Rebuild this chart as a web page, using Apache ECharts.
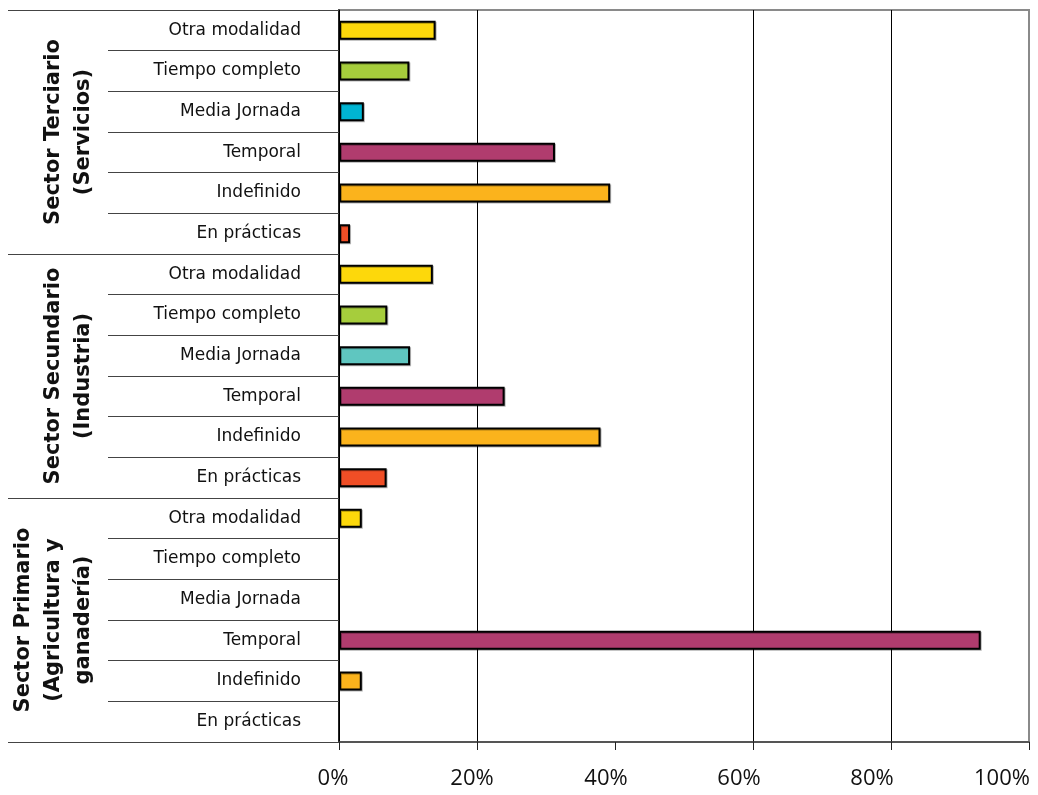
<!DOCTYPE html>
<html>
<head>
<meta charset="utf-8">
<script src="https://cdn.jsdelivr.net/npm/echarts@6/dist/echarts.min.js"></script>
<style>
    html, body { margin: 0; padding: 0; background: #fff; }
    #main { width: 1038px; height: 795px; }
</style>
</head>
<body>
<div id="main"></div>
<script type="text/javascript">

    // modalidades de contrato (de arriba a abajo dentro de cada sector)
    var modalidades = ['Otra modalidad', 'Tiempo completo', 'Media Jornada', 'Temporal', 'Indefinido', 'En prácticas'];
    var sectores = ['Sector Terciario\n(Servicios)', 'Sector Secundario\n(Industria)', 'Sector Primario\n(Agricultura y\nganadería)'];

    // porcentajes
    var terciario  = [14.0, 10.2, 3.6, 31.3, 39.3, 1.6];
    var secundario = [13.6, 7.0, 10.3, 24.0, 37.9, 6.9];
    var primario   = [3.3, 0, 0, 93.0, 3.3, 0];

    var ticks = [0, 20, 40, 60, 80, 100];

    var colTerciario  = ['#fdd80b', '#a6cd3c', '#00b5d3', '#b03c6e', '#fbb31c', '#f04e26'];
    var colSecundario = ['#fdd80b', '#a6cd3c', '#5fc6c0', '#b03c6e', '#fbb31c', '#f04e26'];
    var colPrimario   = ['#fdd80b', '#a6cd3c', '#00b5d3', '#b03c6e', '#fbb31c', '#f04e26'];

    var categorias = [];
    var datos = [];
    function agregar(valores, colores) {
        for (var i = 0; i < valores.length; i++) {
            categorias.push(modalidades[i]);
            datos.push({
                value: valores[i],
                itemStyle: {
                    color: colores[i],
                    borderWidth: valores[i] === 0 ? 0 : 2
                }
            });
        }
    }
    agregar(terciario, colTerciario);
    agregar(secundario, colSecundario);
    agregar(primario, colPrimario);

    // desplazamiento de las etiquetas del eje x (como en el original)
    var corrX = [12, 10, 18, 28, 38, 54];
    var richX = {};
    for (var k = 0; k < corrX.length; k++) {
        richX['l' + k] = {
            fontFamily: 'Open Sans',
            fontSize: 22,
            color: '#111',
            padding: [0, corrX[k], 0, 0]
        };
    }

    var myChart = echarts.init(document.getElementById('main'));

    var option = {
        animation: false,
        grid: {
            left: 339,
            right: 9,
            top: 10,
            bottom: 53,
            show: true,
            borderColor: '#8a8a8a',
            borderWidth: 2
        },
        xAxis: {
            type: 'value',
            min: ticks[0],
            max: ticks[ticks.length - 1],
            interval: 20,
            axisLine: { show: true, lineStyle: { color: '#444', width: 1.5 } },
            axisTick: { show: true, length: 8, lineStyle: { color: '#222' } },
            splitLine: {
                show: true,
                lineStyle: {
                    color: ['#000', '#000', 'rgba(0,0,0,0)', '#000', '#000', '#8a8a8a'],
                    width: 1
                }
            },
            axisLabel: {
                margin: 26,
                formatter: function (value, index) {
                    return '{l' + index + '|' + value + '%}';
                },
                rich: richX
            }
        },
        yAxis: [
            {
                type: 'category',
                inverse: true,
                data: categorias,
                axisLine: { show: true, lineStyle: { color: '#000', width: 1.5 } },
                axisTick: { show: true, interval: 0, length: 231, lineStyle: { color: '#444', width: 1 } },
                axisLabel: {
                    interval: 0,
                    margin: 38,
                    fontFamily: 'DejaVu Sans',
                    fontSize: 17,
                    color: '#111'
                }
            },
            {
                type: 'category',
                inverse: true,
                position: 'left',
                data: sectores,
                axisLine: { show: false },
                axisTick: { show: true, interval: 0, length: 331, lineStyle: { color: '#444', width: 1 } },
                axisLabel: {
                    interval: 0,
                    rotate: 90,
                    margin: 240,
                    fontFamily: 'DejaVu Sans',
                    fontWeight: 'bold',
                    fontSize: 21,
                    lineHeight: 30,
                    color: '#111'
                }
            }
        ],
        series: [
            {
                type: 'bar',
                yAxisIndex: 0,
                barWidth: 19,
                itemStyle: {
                    borderColor: '#000',
                    shadowColor: 'rgba(0,0,0,0.3)',
                    shadowOffsetX: 1,
                    shadowOffsetY: 1
                },
                data: datos
            }
        ]
    };

    myChart.setOption(option);

</script>
</body>
</html>
